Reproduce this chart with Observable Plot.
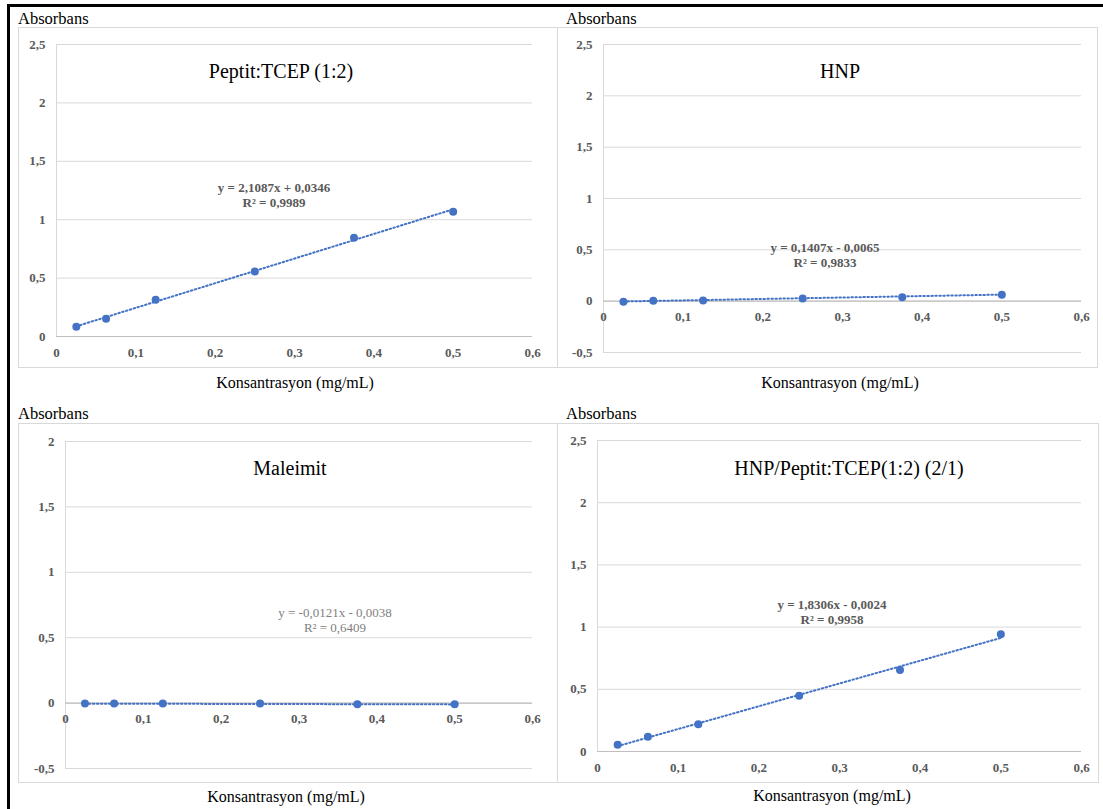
<!DOCTYPE html>
<html>
<head>
<meta charset="utf-8">
<script src="https://cdn.jsdelivr.net/npm/d3@7"></script>
<script src="https://cdn.jsdelivr.net/npm/@observablehq/plot@0.6"></script>
<style>
  body { margin: 0; background: #fff; }
  #page { position: relative; width: 1103px; height: 809px; background: #fff; overflow: hidden;
          font-family: "Liberation Serif", "Times New Roman", serif; }
  .frame-top { position: absolute; left: 7px; top: 4px; width: 1096px; height: 3px; background: #000; }
  .frame-left { position: absolute; left: 7px; top: 4px; width: 3px; height: 805px; background: #000; }
  .box { position: absolute; border: 1px solid #d9d9d9; box-sizing: border-box; }
  .chart { position: absolute; }
  .chart text { font-family: "Liberation Serif", "Times New Roman", serif; }
  .lbl { position: absolute; white-space: nowrap; transform: translate(-50%, -50%);
         font-family: "Liberation Serif", "Times New Roman", serif; }
  .ylab { position: absolute; font-size: 16.5px; color: #000; transform: translateY(-50%); white-space: nowrap;
          font-family: "Liberation Serif", "Times New Roman", serif; }
  .title { font-size: 20px; color: #000; }
  .xtitle { font-size: 16px; color: #000; }
  .eq { font-size: 13px; line-height: 15px; color: #595959; font-weight: bold; text-align: center; }
  .eq.light { font-weight: normal; color: #7f7f7f; }
</style>
</head>
<body>
<div id="page">
  <div class="frame-top"></div>
  <div class="frame-left"></div>
</div>
<script>
// Concentrations (mg/mL) shared by all four calibration series
const concentration = [0.025, 0.0625, 0.125, 0.25, 0.375, 0.5];

// Measured absorbance for each sample
const peptitTcep = [0.083, 0.152, 0.315, 0.557, 0.846, 1.069];
const hnp = [-0.006, 0.003, 0.006, 0.026, 0.039, 0.062];
const maleimit = [-0.003, -0.004, -0.004, -0.004, -0.009, -0.009];
const hnpPeptit = [0.054, 0.118, 0.220, 0.448, 0.655, 0.942];

// Linear fits (slope, intercept, R²) as reported on each chart
const slopes = [2.1087, 0.1407, -0.0121, 1.8306];
const intercepts = [0.0346, -0.0065, -0.0038, -0.0024];
const rSquared = ["0,9989", "0,9833", "0,6409", "0,9958"];
const equations = ["y = 2,1087x + 0,0346", "y = 0,1407x - 0,0065", "y = -0,0121x - 0,0038", "y = 1,8306x - 0,0024"];

const titles = ["Peptit:TCEP (1:2)", "HNP", "Maleimit", "HNP/Peptit:TCEP(1:2) (2/1)"];
const xTicks = [0, 0.1, 0.2, 0.3, 0.4, 0.5, 0.6];
const yTicksA = [0, 0.5, 1, 1.5, 2, 2.5];
const yTicksB = [-0.5, 0, 0.5, 1, 1.5, 2, 2.5];
const yTicksC = [-0.5, 0, 0.5, 1, 1.5, 2];
const yLabel = "Absorbans";
const xLabel = "Konsantrasyon (mg/mL)";

const fmt = d => String(d).replace(".", ",");
const blue = "#4472c4";
const serif = "'Liberation Serif', 'Times New Roman', serif";
const page = document.getElementById("page");

const panels = [
  { values: peptitTcep, yTicks: yTicksA,
    box: {left: 18, top: 27, w: 540, h: 341}, m: {l: 38, r: 26, t: 17, b: 32},
    ylab: [18, 19], title: [281, 71], eq: [274, 195], xt: [295, 383], eqClass: "" },
  { values: hnp, yTicks: yTicksB,
    box: {left: 557, top: 27, w: 541, h: 341}, m: {l: 46, r: 17, t: 17, b: 16},
    ylab: [566, 19], title: [840, 71], eq: [825, 255], xt: [840, 383], eqClass: "" },
  { values: maleimit, yTicks: yTicksC,
    box: {left: 18, top: 423, w: 540, h: 360}, m: {l: 47, r: 26, t: 18, b: 15},
    ylab: [18, 414], title: [290, 468], eq: [335, 620], xt: [286, 797], eqClass: " light" },
  { values: hnpPeptit, yTicks: yTicksA,
    box: {left: 557, top: 423, w: 542, h: 360}, m: {l: 40, r: 18, t: 17, b: 32},
    ylab: [566, 414], title: [849, 468], eq: [832, 612], xt: [832, 796], eqClass: "" }
];

function addText(cls, html, x, y) {
  const el = document.createElement("div");
  el.className = cls;
  el.innerHTML = html;
  el.style.left = x + "px";
  el.style.top = y + "px";
  page.appendChild(el);
}

panels.forEach((p, i) => {
  const box = document.createElement("div");
  box.className = "box";
  Object.assign(box.style, {left: p.box.left + "px", top: p.box.top + "px", width: p.box.w + "px", height: p.box.h + "px"});
  page.appendChild(box);

  const points = concentration.map((c, k) => ({x: c, y: p.values[k]}));
  const xEnds = [concentration[0], concentration[concentration.length - 1]];
  const fit = xEnds.map(x => ({x, y: slopes[i] * x + intercepts[i]}));
  const yExtent = [p.yTicks[0], p.yTicks[p.yTicks.length - 1]];

  const chart = Plot.plot({
    width: p.box.w, height: p.box.h,
    marginLeft: p.m.l, marginRight: p.m.r, marginTop: p.m.t, marginBottom: p.m.b,
    x: {domain: [0, 0.6], axis: null},
    y: {domain: yExtent, axis: null},
    style: {background: "transparent", fontFamily: serif, overflow: "visible"},
    marks: [
      Plot.gridY(p.yTicks, {stroke: "#d9d9d9", strokeOpacity: 1}),
      Plot.ruleX([0], {stroke: "#d9d9d9"}),
      Plot.ruleY([0], {stroke: "#bfbfbf", strokeWidth: 1.2}),
      Plot.axisY(p.yTicks, {tickSize: 0, tickPadding: 11, tickFormat: fmt, fontSize: 13,
        fontWeight: "bold", fill: "#595959", label: null}),
      Plot.text(xTicks, {x: d => d, y: () => 0, text: fmt, dy: 16, fontSize: 13,
        fontWeight: "bold", fill: "#595959"}),
      Plot.line(fit, {x: "x", y: "y", stroke: blue, strokeWidth: 2,
        strokeDasharray: "1.5 2.5", strokeLinecap: "round"}),
      Plot.dot(points, {x: "x", y: "y", r: 4, fill: blue, stroke: "none"})
    ]
  });
  chart.classList.add("chart");
  chart.style.left = p.box.left + "px";
  chart.style.top = p.box.top + "px";
  page.appendChild(chart);

  const yl = document.createElement("div");
  yl.className = "ylab";
  yl.textContent = yLabel;
  yl.style.left = p.ylab[0] + "px";
  yl.style.top = p.ylab[1] + "px";
  page.appendChild(yl);

  addText("lbl title", titles[i], p.title[0], p.title[1]);
  addText("lbl eq" + p.eqClass, equations[i] + "<br>R² = " + rSquared[i], p.eq[0], p.eq[1]);
  addText("lbl xtitle", xLabel, p.xt[0], p.xt[1]);
});
</script>
</body>
</html>
